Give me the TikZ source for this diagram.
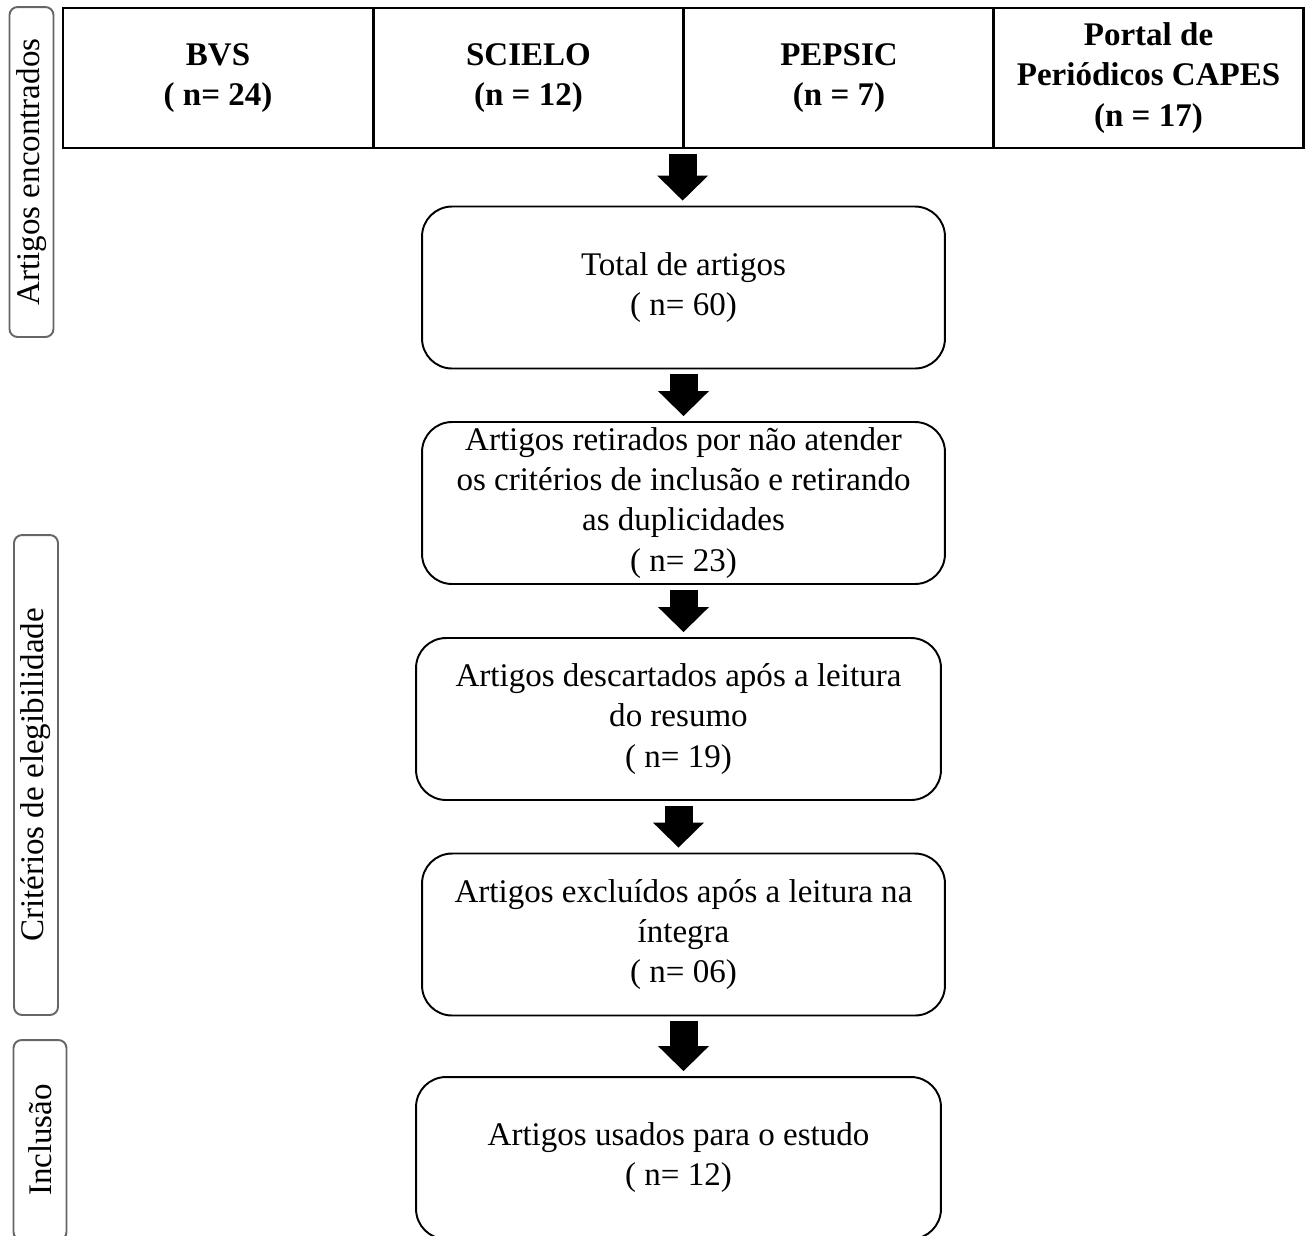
\documentclass[tikz,border=0pt]{standalone}
\usepackage{fontspec}
\setmainfont{Liberation Serif}
\usetikzlibrary{arrows.meta}

\tikzset{
  base/.style={font=\fontsize{18.8}{22.8}\selectfont,align=center},
  fonte/.style={base,draw,rectangle,line width=1.6pt,minimum width=6.2cm,minimum height=2.8cm,font=\fontsize{18.8}{22.8}\selectfont\bfseries},
  etapa/.style={base,draw,rectangle,line width=1.1pt,rounded corners=0.6cm,minimum width=10.46cm,minimum height=3.24cm,inner ysep=1pt},
  fase/.style={base,draw=black!60,rectangle,line width=1.1pt,rounded corners=0.16cm,rotate=90,minimum height=0.88cm},
  seta/.style={line width=0.56cm,-{Triangle[width=1.02cm,length=0.5cm,line width=0pt]},shorten <=0.1cm,shorten >=0.1cm}
}

\begin{document}
\begin{tikzpicture}[x=0.02cm,y=-0.02cm]
\useasboundingbox (0,0) rectangle (1305,1235);
\clip (0,0) rectangle (1305,1235);

% bases de dados
\node [fonte] (bvs) at(218,78){BVS\\( n= 24)};
\node [fonte] (scielo) at(528.5,78){SCIELO\\(n = 12)};
\node [fonte] (pepsic) at(839,78){PEPSIC\\(n = 7)};
\node [fonte] (capes) at(1148.5,78){Portal de\\Periódicos CAPES\\(n = 17)};

% etapas
\node [etapa] (total) at(683.5,287.5){Total de artigos\\( n= 60)};
\node [etapa] (retirados) at(683.5,503){Artigos retirados por não atender\\os critérios de inclusão e retirando\\as duplicidades\\( n= 23)};
\node [etapa,minimum width=10.5cm] (descartados) at(678.5,719){Artigos descartados após a leitura\\do resumo\\( n= 19)};
\node [etapa] (excluidos) at(683.5,934.5){Artigos excluídos após a leitura na\\íntegra\\( n= 06)};
\node [etapa,minimum width=10.5cm] (usados) at(678.5,1158){Artigos usados para o estudo\\( n= 12)};

% fases
\node [fase,minimum width=6.6cm] (encontrados) at(31.5,172){Artigos encontrados};
\node [fase,minimum width=9.6cm] (criterios) at(36,775){Critérios de elegibilidade};
\node [fase,minimum width=4cm,minimum height=1.06cm] (inclusao) at(40,1140){Inclusão};

\draw[seta](pepsic.south west) -- (pepsic.south west |- total.north);
\draw[seta](total.south) -- (total.south |- retirados.north);
\draw[seta](retirados.south) -- (retirados.south |- descartados.north);
\draw[seta](descartados.south) -- (descartados.south |- excluidos.north);
\draw[seta](excluidos.south) -- (excluidos.south |- usados.north);
\end{tikzpicture}
\end{document}
